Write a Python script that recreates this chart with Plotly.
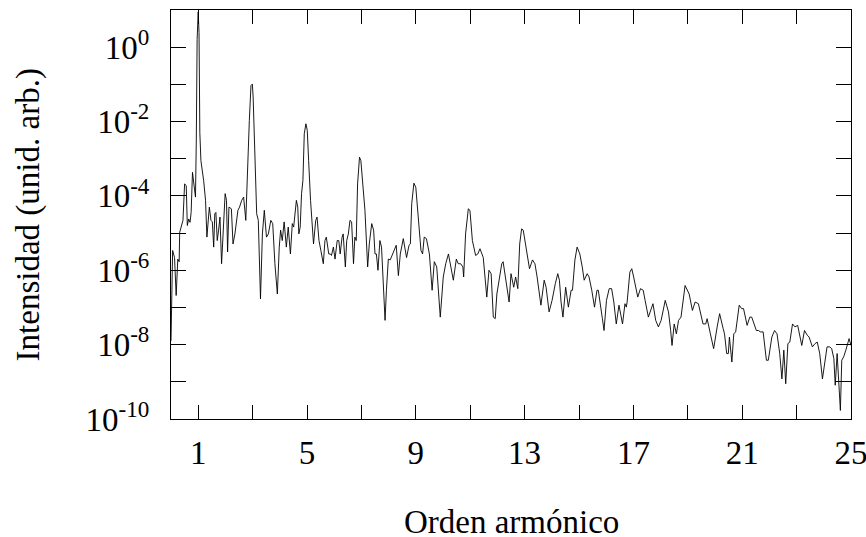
import plotly.graph_objects as go

# Harmonic order (x) and spectral intensity (arb. units)
orden = [
    0.00, 0.06, 0.13, 0.19, 0.25, 0.30, 0.32, 0.38, 0.44, 0.50, 0.56, 0.60, 0.65, 0.70, 0.74, 0.79,
    0.87, 0.90, 0.93, 0.96, 1.00, 1.03, 1.06, 1.10, 1.20, 1.27, 1.32, 1.41, 1.47, 1.52, 1.57, 1.61,
    1.65, 1.70, 1.75, 1.80, 1.86, 1.92, 1.99, 2.04, 2.08, 2.13, 2.22, 2.28, 2.35, 2.46, 2.52, 2.60,
    2.67, 2.75, 2.82, 2.88, 2.94, 2.99, 3.02, 3.09, 3.15, 3.21, 3.29, 3.36, 3.43, 3.51, 3.58, 3.67,
    3.74, 3.82, 3.91, 3.98, 4.03, 4.09, 4.16, 4.24, 4.31, 4.39, 4.46, 4.51, 4.61, 4.66, 4.70, 4.75,
    4.80, 4.85, 4.90, 4.96, 5.01, 5.06, 5.13, 5.24, 5.32, 5.37, 5.44, 5.51, 5.60, 5.66, 5.71, 5.80,
    5.86, 5.90, 5.97, 6.03, 6.11, 6.17, 6.22, 6.29, 6.33, 6.41, 6.46, 6.52, 6.58, 6.64, 6.71, 6.76,
    6.81, 6.86, 6.93, 6.98, 7.06, 7.13, 7.23, 7.29, 7.38, 7.45, 7.50, 7.55, 7.61, 7.68, 7.74, 7.84,
    7.87, 7.92, 7.99, 8.06, 8.14, 8.21, 8.28, 8.36, 8.43, 8.54, 8.66, 8.75, 8.80, 8.85, 8.93, 9.00,
    9.09, 9.19, 9.25, 9.31, 9.39, 9.50, 9.60, 9.68, 9.77, 9.90, 10.01, 10.10, 10.20, 10.29, 10.38, 10.49,
    10.56, 10.65, 10.73, 10.76, 10.83, 10.93, 10.99, 11.08, 11.20, 11.28, 11.36, 11.48, 11.61, 11.69, 11.77, 11.85,
    11.92, 11.98, 12.06, 12.16, 12.21, 12.31, 12.43, 12.50, 12.60, 12.67, 12.75, 12.82, 12.89, 12.95, 13.05, 13.18,
    13.29, 13.38, 13.46, 13.60, 13.72, 13.79, 13.90, 14.01, 14.13, 14.22, 14.28, 14.34, 14.41, 14.51, 14.61, 14.71,
    14.76, 14.85, 14.93, 15.03, 15.12, 15.19, 15.30, 15.37, 15.47, 15.57, 15.66, 15.71, 15.86, 15.92, 16.01, 16.11,
    16.20, 16.28, 16.37, 16.47, 16.60, 16.69, 16.74, 16.77, 16.87, 16.94, 17.01, 17.16, 17.26, 17.36, 17.43, 17.55,
    17.72, 17.82, 17.92, 18.02, 18.17, 18.29, 18.37, 18.42, 18.50, 18.58, 18.66, 18.75, 18.90, 19.05, 19.17, 19.27,
    19.39, 19.56, 19.66, 19.71, 19.83, 19.95, 20.08, 20.17, 20.30, 20.35, 20.43, 20.49, 20.53, 20.62, 20.69, 20.76,
    20.89, 20.98, 21.05, 21.18, 21.28, 21.35, 21.52, 21.60, 21.67, 21.77, 21.89, 21.96, 22.09, 22.19, 22.28, 22.38,
    22.46, 22.53, 22.60, 22.68, 22.75, 22.85, 22.94, 23.04, 23.19, 23.29, 23.39, 23.46, 23.58, 23.68, 23.76, 23.85,
    23.95, 24.05, 24.12, 24.22, 24.29, 24.37, 24.42, 24.49, 24.56, 24.61, 24.66, 24.73, 24.81, 24.88, 24.93, 25.00,
]

intensidad = [
    1.26e-8, 3.4e-6, 2.2e-6, 2.1e-7, 2.0e-6, 1.7e-6, 1.05e-5, 1.6e-5, 2.2e-5, 2.1e-4, 1.9e-4, 1.6e-5, 2.4e-5, 1.95e-5, 3.6e-5, 4.3e-4,
    1.1e-4, 9.3e-5, 3.2e-3, 1.6, 8.9, 2.5, 5.0e-3, 8.9e-4, 2.6e-4, 7.6e-5, 7.8e-6, 5.0e-5, 2.2e-5, 2.0e-5, 4.2e-6, 3.3e-5,
    3.6e-5, 6.3e-6, 1.2e-5, 2.7e-5, 1.5e-6, 1.45e-5, 1.15e-4, 7.6e-5, 3.1e-6, 5.0e-5, 4.5e-5, 5.1e-6, 9.5e-6, 4.1e-5, 5.0e-5, 7.6e-5,
    9.3e-5, 2.2e-5, 8.9e-4, 1.07e-2, 9.3e-2, 1.02e-1, 4.6e-2, 1.7e-3, 3.3e-5, 2.2e-5, 1.7e-7, 9.5e-6, 4.1e-5, 7.8e-6, 9.5e-6, 2.2e-5,
    1.8e-5, 1.5e-6, 2.3e-7, 4.2e-6, 1.2e-5, 6.3e-6, 2.0e-5, 4.2e-6, 1.45e-5, 2.75e-6, 1.8e-5, 1.45e-5, 7.6e-5, 5.0e-5, 9.5e-6, 1.45e-5,
    1.15e-4, 2.6e-4, 4.7e-3, 8.7e-3, 5.75e-3, 8.9e-4, 7.6e-5, 5.1e-6, 2.2e-5, 2.7e-5, 6.3e-6, 3.4e-6, 1.5e-6, 6.3e-6, 7.8e-6, 2.75e-6,
    2.75e-6, 2.5e-6, 4.2e-6, 2.0e-6, 6.3e-6, 6.3e-6, 2.75e-6, 7.8e-6, 9.5e-6, 1.23e-6, 6.3e-6, 9.5e-6, 2.2e-5, 2.0e-5, 1.5e-6, 7.8e-6,
    6.3e-6, 2.1e-4, 1.1e-3, 8.9e-4, 1.7e-4, 4.1e-5, 1.23e-6, 5.1e-6, 1.8e-5, 1.2e-5, 2.75e-6, 2.75e-6, 1.0e-6, 6.3e-6, 4.2e-6, 1.02e-7,
    4.5e-8, 2.9e-7, 2.0e-6, 1.9e-6, 2.75e-6, 3.8e-6, 4.7e-6, 7.2e-7, 2.75e-6, 7.1e-6, 2.2e-6, 4.7e-6, 5.1e-6, 6.2e-5, 2.2e-4, 1.7e-4,
    2.7e-5, 3.4e-6, 2.75e-6, 7.8e-6, 7.1e-6, 2.75e-6, 2.9e-7, 1.7e-6, 1.23e-6, 5.5e-8, 6.6e-7, 1.5e-6, 2.75e-6, 1.23e-6, 5.4e-7, 2.0e-6,
    1.5e-6, 1.5e-6, 1.23e-6, 6.6e-7, 9.5e-6, 4.5e-5, 4.1e-5, 6.3e-6, 2.5e-6, 2.75e-6, 3.8e-6, 2.2e-6, 1.9e-7, 1.0e-6, 8.1e-7, 5.5e-8,
    5.0e-8, 2.3e-7, 5.4e-7, 1.5e-6, 1.7e-6, 5.4e-7, 1.4e-7, 8.1e-7, 3.5e-7, 6.6e-7, 3.2e-7, 5.1e-6, 1.3e-5, 1.2e-5, 3.8e-6, 1.1e-6,
    1.9e-6, 1.5e-6, 6.6e-7, 1.15e-7, 5.4e-7, 3.5e-7, 7.6e-8, 1.55e-7, 4.4e-7, 8.1e-7, 5.4e-7, 1.4e-7, 5.5e-8, 3.5e-7, 1.02e-7, 2.9e-7,
    2.9e-7, 1.9e-6, 4.2e-6, 2.75e-6, 1.23e-6, 5.4e-7, 8.1e-7, 6.6e-7, 2.9e-7, 1.02e-7, 2.9e-7, 2.9e-7, 5.0e-8, 2.4e-8, 1.55e-7, 3.2e-7,
    3.2e-7, 1.4e-7, 3.6e-8, 1.15e-7, 3.6e-8, 1.26e-7, 1.02e-7, 1.4e-7, 8.9e-7, 1.1e-6, 6.6e-7, 1.9e-7, 3.2e-7, 2.9e-7, 1.55e-7, 5.5e-8,
    1.26e-7, 4.5e-8, 3.0e-8, 4.5e-8, 1.55e-7, 7.6e-8, 2.4e-8, 9.5e-9, 3.6e-8, 1.95e-8, 4.5e-8, 5.5e-8, 3.9e-7, 2.3e-7, 8.3e-8, 1.4e-7,
    1.26e-7, 3.6e-8, 3.6e-8, 5.0e-8, 1.95e-8, 7.8e-9, 3.0e-8, 6.8e-8, 2.7e-8, 1.95e-8, 5.75e-9, 5.75e-9, 1.6e-8, 3.4e-9, 1.95e-8, 2.2e-8,
    1.15e-7, 9.3e-8, 9.3e-8, 3.3e-8, 5.5e-8, 5.5e-8, 2.4e-8, 2.4e-8, 2.2e-8, 2.2e-8, 3.8e-9, 3.8e-9, 1.6e-8, 2.4e-8, 1.95e-8, 5.75e-9,
    1.2e-9, 7.1e-9, 8.9e-10, 1.07e-8, 1.17e-8, 3.6e-8, 3.0e-8, 3.3e-8, 9.5e-9, 2.4e-8, 1.8e-8, 1.6e-8, 8.7e-9, 1.07e-8, 1.17e-8, 5.75e-9,
    1.2e-9, 3.8e-9, 8.7e-9, 8.7e-9, 7.8e-9, 4.2e-9, 8.1e-10, 5.75e-9, 9.8e-10, 1.7e-10, 3.8e-9, 4.7e-9, 7.1e-9, 1.07e-8, 1.45e-8, 9.5e-9,
]

# Axis ticks: labelled (major) and unlabelled (minor) positions
x_label_vals = [1, 5, 9, 13, 17, 21, 25]
x_label_text = ["1", "5", "9", "13", "17", "21", "25"]
x_minor_vals = [3, 7, 11, 15, 19, 23]
y_label_vals = [1e0, 1e-2, 1e-4, 1e-6, 1e-8, 1e-10]
y_label_text = ["10<sup>0</sup>", "10<sup>-2</sup>", "10<sup>-4</sup>",
                "10<sup>-6</sup>", "10<sup>-8</sup>", "10<sup>-10</sup>"]
y_minor_vals = [1e1, 1e-1, 1e-3, 1e-5, 1e-7, 1e-9]

FONT = "Liberation Serif"
FS = 33

fig = go.Figure()
fig.add_trace(go.Scatter(
    x=orden, y=intensidad, mode="lines",
    line=dict(color="black", width=0.9),
    showlegend=False, hoverinfo="skip",
))

fig.update_layout(
    width=866, height=537,
    margin=dict(l=171, r=15, t=10, b=118, autoexpand=False),
    paper_bgcolor="white", plot_bgcolor="white",
    font=dict(family=FONT, size=FS, color="black"),
    showlegend=False,
)

fig.update_xaxes(
    range=[0, 25], showgrid=False, zeroline=False, automargin=False,
    showline=True, linecolor="black", linewidth=1, mirror="ticks",
    ticks="inside", ticklen=14, tickwidth=1, tickcolor="black",
    tickmode="array", tickvals=x_label_vals, ticktext=x_label_text,
    minor=dict(tickmode="array", tickvals=x_minor_vals, ticks="inside",
               ticklen=14, tickwidth=1, tickcolor="black", showgrid=False),
    tickfont=dict(family=FONT, size=FS, color="black"),
    ticklabelstandoff=4, ticklabeloverflow="allow",
)
fig.update_yaxes(
    type="log", range=[-10, 1], showgrid=False, zeroline=False, automargin=False,
    showline=True, linecolor="black", linewidth=1, mirror="ticks",
    ticks="inside", ticklen=15, tickwidth=1, tickcolor="black",
    tickmode="array", tickvals=y_label_vals, ticktext=y_label_text,
    minor=dict(tickmode="array", tickvals=y_minor_vals, ticks="inside",
               ticklen=15, tickwidth=1, tickcolor="black", showgrid=False),
    tickfont=dict(family=FONT, size=FS, color="black"),
    ticklabelstandoff=14, ticklabeloverflow="allow",
)

fig.add_annotation(
    text="Orden armónico", xref="paper", yref="paper",
    x=0.5, y=-0.252, xanchor="center", yanchor="middle",
    showarrow=False, font=dict(family=FONT, size=FS, color="black"),
)
fig.add_annotation(
    text="Intensidad (unid. arb.)", xref="paper", yref="paper",
    x=-0.209, y=0.5, xanchor="center", yanchor="middle", textangle=-90,
    showarrow=False, font=dict(family=FONT, size=FS, color="black"),
)

fig.write_html("out.html", config={"displayModeBar": False},
               post_script="document.body.style.margin='0';")
